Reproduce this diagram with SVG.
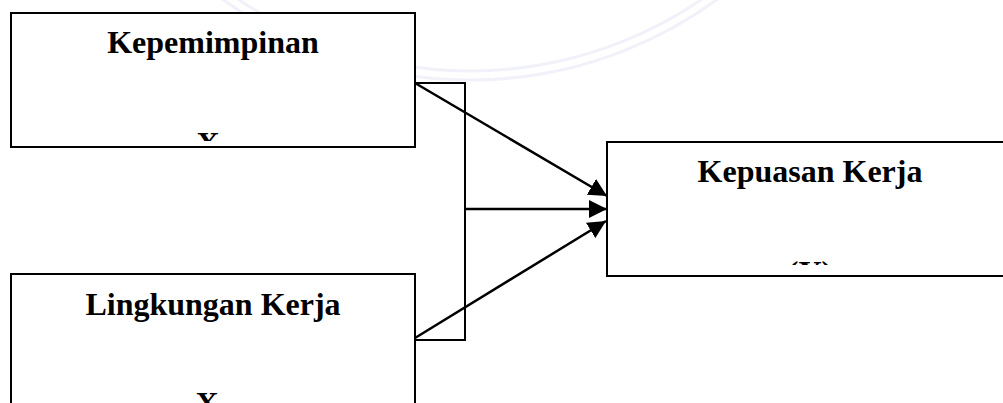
<svg xmlns="http://www.w3.org/2000/svg" width="1003" height="403" viewBox="0 0 1003 403">
  <style>
    .box { fill: #ffffff; stroke: #000000; stroke-width: 2; }
    .title { font-family: "Liberation Serif", "Times New Roman", serif; font-weight: bold; font-size: 32px; fill: #000000; text-anchor: middle; }
    .conn { stroke: #000000; stroke-width: 2; fill: none; }
    .arrowline { stroke: #000000; stroke-width: 2.5; fill: none; }
    .wm { fill: none; stroke: #f1f1fa; stroke-width: 3; }
  </style>
  <defs>
    <marker id="arrow" markerUnits="userSpaceOnUse" markerWidth="18" markerHeight="18" viewBox="0 0 18 18" refX="18" refY="9" orient="auto">
      <path d="M0,0 L18,9 L0,18 Z" fill="#000000"/>
    </marker>
    <clipPath id="clip1"><rect x="12" y="14" width="402" height="127"/></clipPath>
    <clipPath id="clip3"><rect x="608" y="143" width="400" height="122"/></clipPath>
  </defs>

  <g id="watermark">
    <circle class="wm" cx="470" cy="-339" r="419"/>
    <circle class="wm" cx="470" cy="-339" r="410"/>
  </g>

  <g id="connectors">
    <polyline class="conn" points="415,83 465,83 465,340 415,340"/>
    <line class="arrowline" x1="415" y1="83" x2="607" y2="196" marker-end="url(#arrow)"/>
    <line class="arrowline" x1="465" y1="209" x2="607" y2="209" marker-end="url(#arrow)"/>
    <line class="arrowline" x1="415" y1="338" x2="606" y2="221" marker-end="url(#arrow)"/>
  </g>

  <g id="node-kepemimpinan">
    <rect class="box" x="11" y="13" width="404" height="134"/>
    <text class="title" x="213" y="53">Kepemimpinan</text>
    <text class="title" x="208" y="154" clip-path="url(#clip1)">X</text>
  </g>

  <g id="node-lingkungan">
    <rect class="box" x="11" y="274" width="404" height="140"/>
    <text class="title" x="213" y="315">Lingkungan Kerja</text>
    <text class="title" x="207" y="414">X</text>
  </g>

  <g id="node-kepuasan">
    <rect class="box" x="607" y="142" width="420" height="134"/>
    <text class="title" x="810" y="182">Kepuasan Kerja</text>
    <text class="title" x="810" y="283" clip-path="url(#clip3)">(Y)</text>
  </g>
</svg>
